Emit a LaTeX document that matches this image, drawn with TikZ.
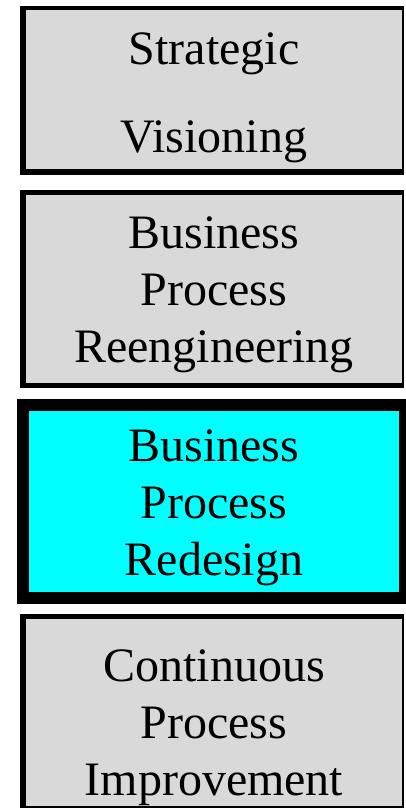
\documentclass[tikz,border=0pt]{standalone}
\usepackage{fontspec}
\setmainfont{Liberation Serif}
\definecolor{panelgray}{HTML}{D9D9D9}
\definecolor{highlight}{HTML}{00FFFF}
\tikzset{
  frame/.style={fill=black},
  panel/.style={fill=panelgray},
  hot/.style={fill=highlight},
  caption/.style={inner sep=0pt, anchor=base, align=center, text width=370pt,
    font=\fontsize{48}{57}\selectfont},
}
\begin{document}
\begin{tikzpicture}[x=1pt,y=-1pt]
  \useasboundingbox (0,0) rectangle (406,808);
  % stage 1
  \path[frame] (20,6) rectangle (404,175);
  \path[panel] (26,10) rectangle (402,169);
  \node[caption, font=\fontsize{48}{87}\selectfont] (vision) at (214,65) {Strategic\\Visioning};
  % stage 2
  \path[frame] (20,190) rectangle (404,388);
  \path[panel] (26,195) rectangle (402,383);
  \node[caption] (bpr) at (214,248) {Business\\Process\\Reengineering};
  % stage 3 (emphasised)
  \path[frame] (17,399) rectangle (406,604);
  \path[hot] (29,411) rectangle (399,592);
  \node[caption] (redesign) at (214,461) {Business\\Process\\Redesign};
  % stage 4
  \path[frame] (20,614) rectangle (404,810);
  \path[panel] (26,619) rectangle (402,806);
  \node[caption] (cpi) at (214,681) {Continuous\\Process\\Improvement};
\end{tikzpicture}
\end{document}
